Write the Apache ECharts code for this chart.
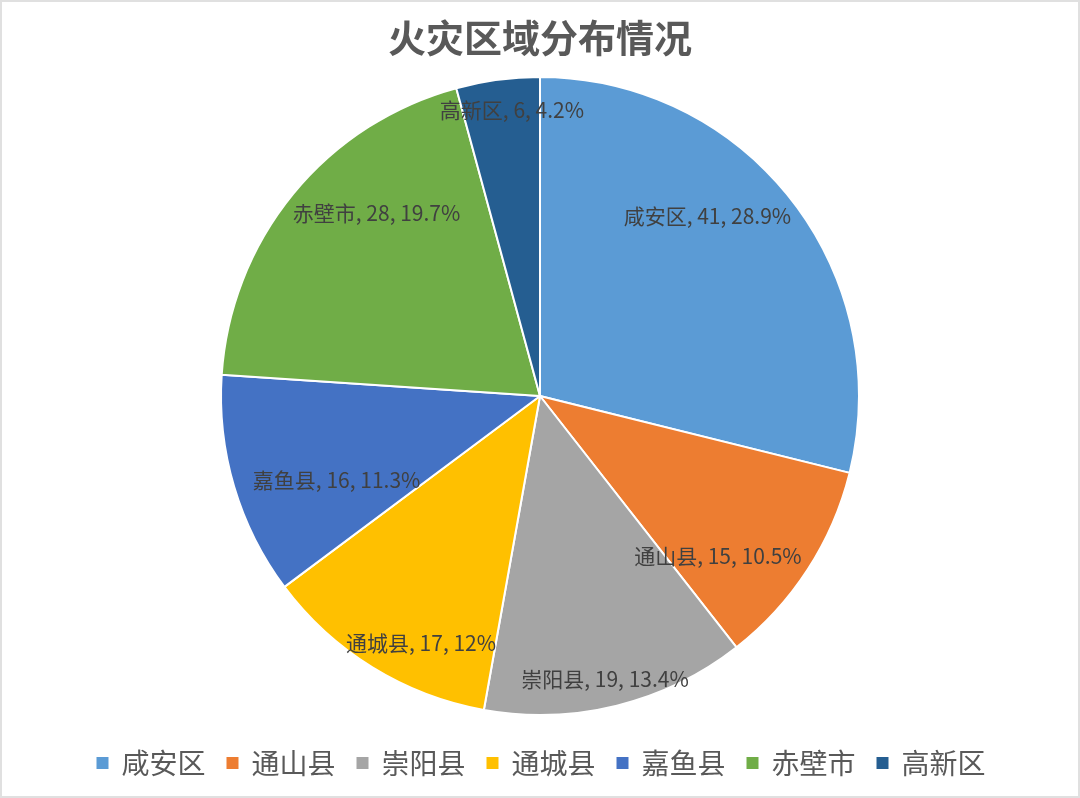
<!DOCTYPE html>
<html lang="zh-CN">
<head>
    <meta charset="UTF-8">
    <title>火灾区域分布情况</title>
    <style>
        html, body { margin: 0; padding: 0; background: #fff; }
        #chart { width: 1076px; height: 794px; border: 2px solid #e0e0e0; }
    </style>
</head>
<body>
<div id="chart"></div>
<script src="https://cdn.jsdelivr.net/npm/echarts@6/dist/echarts.min.js"></script>
<script>
    var areas = ['咸安区', '通山县', '崇阳县', '通城县', '嘉鱼县', '赤壁市', '高新区'];
    var counts = [41, 15, 19, 17, 16, 28, 6];
    var percents = ['28.9%', '10.5%', '13.4%', '12%', '11.3%', '19.7%', '4.2%'];
    var colors = ['#5B9BD5', '#ED7D31', '#A5A5A5', '#FFC000', '#4472C4', '#70AD47', '#255E91'];

    // 标签摆放（Excel 最佳位置）：半径比例、角度微调(度)
    var labelRadius = [0.77, 0.75, 0.91, 0.86, 0.69, 0.77, 0.90];
    var labelTurn = [-9, 9, 1, -6, -6, 9, 2];

    var cx = 538, cy = 394, R = 319;

    var pieData = [];
    for (var i = 0; i < areas.length; i++) {
        pieData.push({ value: counts[i], name: areas[i], itemStyle: { color: colors[i] } });
    }

    var chart = echarts.init(document.getElementById('chart'));
    var option = {
        animation: false,
        title: {
            text: '火灾区域分布情况',
            left: 'center',
            top: 12,
            textStyle: {
                fontFamily: 'Noto Sans CJK SC',
                fontSize: 38,
                fontWeight: 'bold',
                color: '#595959'
            }
        },
        legend: {
            top: 742,
            left: 'center',
            icon: 'rect',
            itemWidth: 14,
            itemHeight: 14,
            itemGap: 19,
            textStyle: {
                fontFamily: 'Noto Sans CJK SC',
                fontSize: 28,
                color: '#595959',
                padding: [0, 0, 0, 7]
            },
            data: areas
        },
        series: [{
            type: 'pie',
            center: [cx, cy],
            radius: R,
            startAngle: 90,
            clockwise: true,
            itemStyle: { borderColor: '#fff', borderWidth: 2 },
            label: {
                show: true,
                position: 'inside',
                fontFamily: 'Noto Sans CJK SC',
                fontSize: 21,
                color: '#404040',
                formatter: function (p) {
                    return p.name + ', ' + p.value + ', ' + percents[p.dataIndex];
                }
            },
            labelLayout: function (p) {
                var r = p.labelRect;
                var lx = r.x + r.width / 2, ly = r.y + r.height / 2;
                var ang = Math.atan2(ly - cy, lx - cx) + labelTurn[p.dataIndex] * Math.PI / 180;
                var d = labelRadius[p.dataIndex] * R;
                return {
                    x: cx + d * Math.cos(ang),
                    y: cy + d * Math.sin(ang),
                    align: 'center',
                    verticalAlign: 'middle'
                };
            },
            data: pieData
        }]
    };
    chart.setOption(option);
</script>
</body>
</html>
